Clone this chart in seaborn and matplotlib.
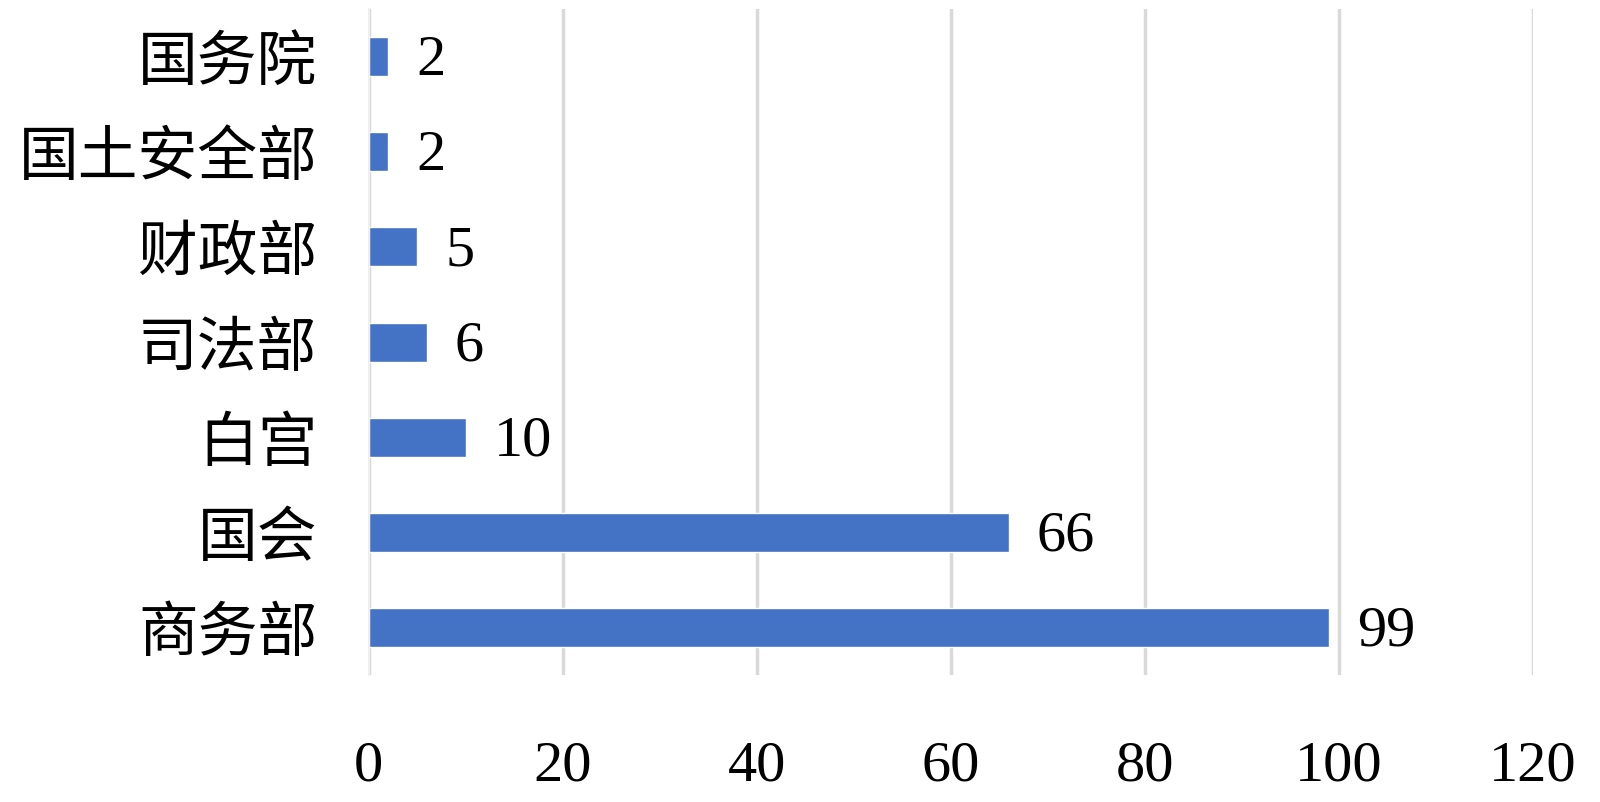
import pandas as pd
import matplotlib.pyplot as plt
import seaborn as sns

# Data
departments = ['国务院', '国土安全部', '财政部', '司法部', '白宫', '国会', '商务部']
counts = [2, 2, 5, 6, 10, 66, 99]
x_ticks = [0, 20, 40, 60, 80, 100, 120]

df = pd.DataFrame({'department': departments, 'count': counts})

sns.set_theme(style='white')
plt.rcParams['font.family'] = ['Liberation Serif', 'Noto Sans CJK SC', 'DejaVu Sans']

fig = plt.figure(figsize=(16, 8.02), dpi=100)
ax = fig.add_axes([0.2305, 0.158, 0.7275, 0.831])

sns.barplot(data=df, x='count', y='department', order=departments,
            color='#4472C4', saturation=1, width=0.41, orient='h', ax=ax)

ax.set_xlim(0, 120)
ax.set_xticks(x_ticks)
ax.xaxis.grid(True, color='#d9d9d9', linewidth=2.5)
ax.set_axisbelow(True)
for side in ['top', 'right', 'bottom']:
    ax.spines[side].set_visible(False)
ax.spines['left'].set_color('#efefef')
ax.spines['left'].set_linewidth(1.5)

ax.set_xlabel('')
ax.set_ylabel('')
ax.tick_params(axis='x', length=0, pad=47, labelsize=42, labelcolor='black')
ax.tick_params(axis='y', length=0, pad=37, labelcolor='black')
for lbl in ax.get_yticklabels():
    lbl.set_fontfamily(['Noto Sans CJK SC', 'DejaVu Sans'])
    lbl.set_fontsize(43)

# value labels to the right of each bar, nudged down slightly
texts = ax.bar_label(ax.containers[0], labels=[str(c) for c in counts],
                     padding=20, fontsize=42, color='black')
for t in texts:
    t.set_va('center')
    t.set_y(t.get_position()[1])
    t.xyann = (t.xyann[0], -3)

fig.savefig('out.png', dpi=100)
plt.close()
